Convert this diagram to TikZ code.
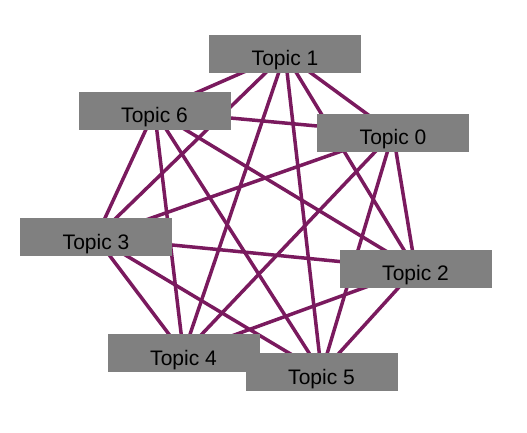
\documentclass[tikz,border=0pt]{standalone}
\usepackage{fontspec}
\setmainfont{Liberation Sans}
\definecolor{edgecol}{RGB}{122,26,94}
\definecolor{boxgray}{RGB}{128,128,128}
\begin{document}
\begin{tikzpicture}[x=1pt,y=1pt,
  topic/.style={fill=boxgray, draw=none, minimum width=152pt, minimum height=38pt, inner sep=0pt, text height=24pt, text depth=0pt, font=\fontsize{21}{25}\selectfont, text=black},
  link/.style={draw=edgecol, line width=3.5pt}]
\useasboundingbox (0,0) rectangle (527,433);
\coordinate (c1) at (285,379);
\coordinate (c6) at (154.5,322);
\coordinate (c0) at (393,300);
\coordinate (c3) at (96,195.5);
\coordinate (c2) at (415.5,164);
\coordinate (c4) at (183.5,79.5);
\coordinate (c5) at (321.5,60.5);
\foreach \a/\b in {0/1,0/2,0/3,0/4,0/5,0/6,1/2,1/3,1/4,1/5,1/6,2/3,2/4,2/5,2/6,3/4,3/5,3/6,4/5,4/6,5/6}
  \path[link] (c\a) -- (c\b);
\node[topic] (t1) at (c1) {Topic 1};
\node[topic] (t6) at (c6) {Topic 6};
\node[topic] (t0) at (c0) {Topic 0};
\node[topic] (t3) at (c3) {Topic 3};
\node[topic] (t2) at (c2) {Topic 2};
\node[topic] (t4) at (c4) {Topic 4};
\node[topic] (t5) at (c5) {Topic 5};
\end{tikzpicture}
\end{document}
